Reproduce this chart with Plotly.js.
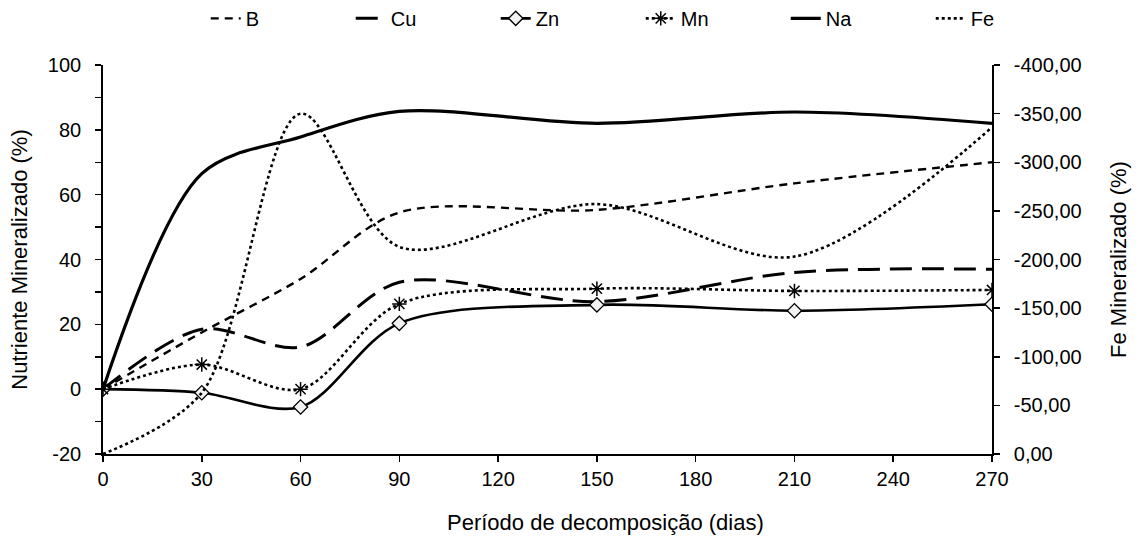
<!DOCTYPE html>
<html>
<head>
<meta charset="utf-8">
<script src="https://cdn.plot.ly/plotly-3.0.1.min.js"></script>
<style>html,body{margin:0;padding:0;background:#fff;}#chart{width:1143px;height:539px;}</style>
</head>
<body>
<div id="chart"></div>
<script>
var dias = [0, 30, 60, 90, 150, 210, 270];
var B  = [0, 17.5, 34, 54.5, 55.3, 63.5, 70];
var Cu = [0, 18.5, 13, 33, 27, 36, 37];
var Zn = [0, -1.1, -5.5, 20.3, 26, 24.2, 26.2];
var Mn = [0, 7.6, 0, 26.3, 31, 30.3, 30.6];
var Na = [0, 66.5, 77.8, 85.7, 82, 85.5, 82];
var Fe = [0, -63, -350, -213, -257, -203, -336];

var xTicks = [0, 30, 60, 90, 120, 150, 180, 210, 240, 270];
var yTicks = [-20, 0, 20, 40, 60, 80, 100];
var yTickText = ['-20', '0', '20', '40', '60', '80', '100'];
var y2Ticks = [0, -50, -100, -150, -200, -250, -300, -350, -400];
var y2TickText = ['0,00', '-50,00', '-100,00', '-150,00', '-200,00', '-250,00', '-300,00', '-350,00', '-400,00'];

var fam = 'Liberation Sans, Arial, sans-serif';
var tickFont = {family: fam, size: 20, color: '#000'};
var titleFont = {family: fam, size: 22, color: '#000'};
var spl = {shape: 'spline', smoothing: 0.9, color: '#000'};
function ln(w, dash) { return Object.assign({}, spl, {width: w, dash: dash}); }

var traces = [
  {x: dias, y: B, name: 'B', mode: 'lines', line: ln(2.4, '8px,6px')},
  {x: dias, y: Cu, name: 'Cu', mode: 'lines', line: ln(3, '22px,10px')},
  {x: dias, y: Zn, name: 'Zn', mode: 'lines+markers', line: ln(2.6, 'solid'),
   marker: {symbol: 'diamond', size: 11, color: '#f2f2f2', line: {color: '#000', width: 1.3}}},
  {x: dias, y: Mn, name: 'Mn', mode: 'lines+markers', line: ln(2.6, 'dot'),
   marker: {symbol: 'asterisk-open', size: 12, color: '#000', line: {color: '#000', width: 1.5}}},
  {x: dias, y: Na, name: 'Na', mode: 'lines', line: ln(3.2, 'solid')},
  {x: dias, y: Fe, name: 'Fe', mode: 'lines', yaxis: 'y2', line: ln(2.6, 'dot')}
];

var layout = {
  width: 1143, height: 539,
  paper_bgcolor: '#fff', plot_bgcolor: '#fff',
  margin: {l: 103, r: 151, t: 65, b: 85, autoexpand: false},
  font: tickFont,
  showlegend: true,
  legend: {orientation: 'h', xref: 'container', yref: 'container', x: 0.18, xanchor: 'left',
           y: 0.966, yanchor: 'middle',
           entrywidth: 100, entrywidthmode: 'pixels', font: tickFont, traceorder: 'normal'},
  xaxis: {range: [0, 270], tickvals: xTicks, ticktext: xTicks.map(String),
          showline: true, linecolor: '#000', linewidth: 1.8,
          ticks: 'outside', ticklen: 6, tickwidth: 1.5, tickcolor: '#000',
          showgrid: false, zeroline: false, tickfont: tickFont},
  yaxis: {range: [-20, 100], tickvals: yTicks, ticktext: yTickText,
          showline: true, linecolor: '#000', linewidth: 1.8,
          ticks: 'outside', ticklen: 6, tickwidth: 1.5, tickcolor: '#000', ticklabelstandoff: 10,
          minor: {dtick: 10, ticks: 'outside', ticklen: 6, tickwidth: 1.5, tickcolor: '#000', showgrid: false},
          showgrid: false, zeroline: false, tickfont: tickFont,
          title: {text: 'Nutriente Mineralizado (%)', font: titleFont, standoff: 14}},
  yaxis2: {range: [0, -400], tickvals: y2Ticks, ticktext: y2TickText, overlaying: 'y', side: 'right',
           showline: true, linecolor: '#000', linewidth: 1.8,
           ticks: 'outside', ticklen: 6, tickwidth: 1.5, tickcolor: '#000', ticklabelstandoff: 10,
           showgrid: false, zeroline: false, tickfont: tickFont,
           title: {text: 'Fe Mineralizado (%)', font: titleFont, standoff: 30}},
  annotations: [{text: 'Período de decomposição (dias)', xref: 'paper', yref: 'paper',
                 x: 0.565, y: -0.177, xanchor: 'center', yanchor: 'middle', showarrow: false, font: titleFont}]
};

Plotly.newPlot('chart', traces, layout, {displayModeBar: false, staticPlot: true});
</script>
</body>
</html>
